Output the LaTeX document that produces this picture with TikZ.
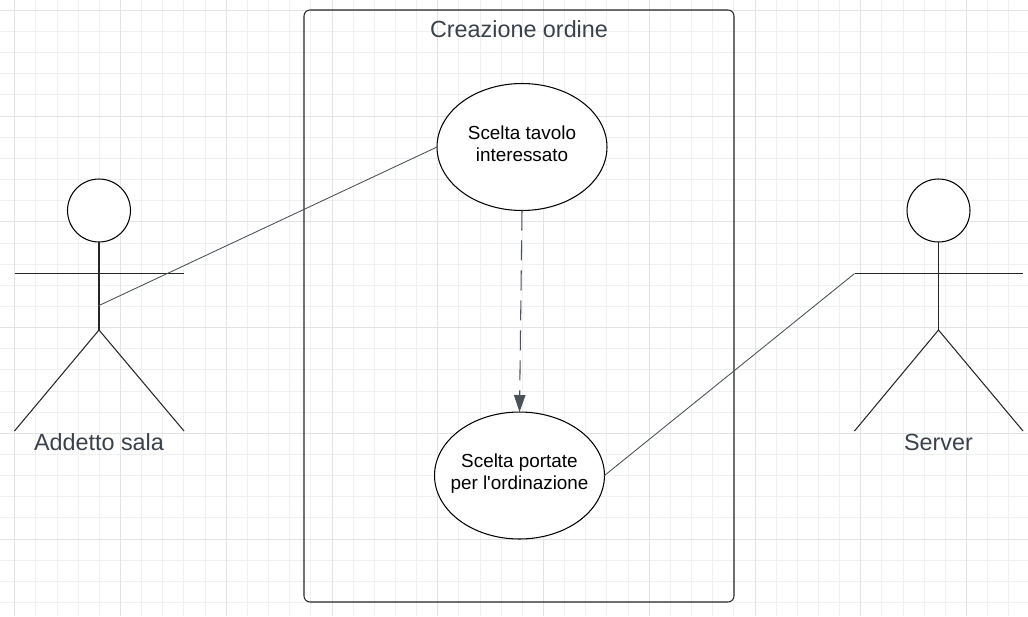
\documentclass[tikz,border=0pt]{standalone}
\usepackage{fontspec}
\setmainfont{Liberation Sans}
\usetikzlibrary{shapes.geometric,arrows.meta}
\definecolor{labelgray}{HTML}{3A414A}
\definecolor{linkgray}{HTML}{4C5159}
\definecolor{minorgrid}{HTML}{F0F0F0}
\definecolor{majorgrid}{HTML}{E3E3E3}
\tikzset{
	usecase/.style={draw=black,fill=white,ellipse,line width=0.6pt,inner xsep=-1cm,inner ysep=-0.5cm,minimum width=3.4cm,minimum height=2.54cm,align=center,text depth=4.2pt,font=\fontsize{10.75}{12.6}\selectfont},
	actorhead/.style={draw=black,fill=white,circle,line width=0.6pt,minimum size=1.26cm},
	actorline/.style={draw=black!85,line width=0.6pt},
	biglabel/.style={text=labelgray,font=\fontsize{13.3}{16}\selectfont},
	link/.style={draw=linkgray,line width=0.5pt},
	include/.style={link,line width=0.6pt,dash pattern=on 0.4cm off 0.2cm,-{Triangle[length=0.34cm,width=0.23cm]}}
}
\begin{document}
\begin{tikzpicture}[x=0.02cm,y=0.02cm]
	\tikzstyle{every node}+=[inner sep=0pt,outer sep=0pt]
	\useasboundingbox (0,-616) rectangle (1028,0);
	% grid
	\foreach \i in {0,...,48}
		\draw [minorgrid,line width=0.5pt] ({14.7+21.15*\i},0) -- ({14.7+21.15*\i},-616);
	\foreach \i in {0,...,28}
		\draw [minorgrid,line width=0.5pt] (0,{-10.3-21.15*\i}) -- (1028,{-10.3-21.15*\i});
	\foreach \i in {0,5,...,45}
		\draw [majorgrid,line width=0.5pt] ({14.7+21.15*\i},0) -- ({14.7+21.15*\i},-616);
	\foreach \i in {0,5,...,25}
		\draw [majorgrid,line width=0.5pt] (0,{-10.3-21.15*\i}) -- (1028,{-10.3-21.15*\i});
	% system box
	\draw [black!85,line width=0.6pt,rounded corners=0.12cm] (304,-10) rectangle (734,-602);
	\node [biglabel] (titolo) at (519,-29) {Creazione ordine};
	% use cases
	\node [usecase] (tavolo) at (522,-147) {Scelta tavolo\\interessato};
	\node [usecase] (portate) at (519.5,-475.5) {Scelta portate\\per l\textquotesingle ordinazione};
	% left actor
	\node [actorhead] (addettohead) at (99,-210.5) {};
	\coordinate (addettohip) at (99,-330);
	\coordinate (addettoarml) at (14.5,-273.6);
	\coordinate (addettoarmr) at (184,-273.6);
	\coordinate (addettofootl) at (14.5,-431);
	\coordinate (addettofootr) at (184,-431);
	\coordinate (addettohand) at (98,-306);
	\draw [actorline] (addettohead.south) -- (addettohip);
	\draw [actorline] (addettoarml) -- (addettoarmr);
	\draw [actorline] (addettofootl) -- (addettohip) -- (addettofootr);
	\node [biglabel] (addettolabel) at (99,-442) {Addetto sala};
	% right actor
	\node [actorhead] (serverhead) at (938.5,-210.5) {};
	\coordinate (serverhip) at (938.5,-330);
	\coordinate (serverarml) at (854.5,-273.6);
	\coordinate (serverarmr) at (1023,-273.6);
	\coordinate (serverfootl) at (854.5,-431);
	\coordinate (serverfootr) at (1023,-431);
	\draw [actorline] (serverhead.south) -- (serverhip);
	\draw [actorline] (serverarml) -- (serverarmr);
	\draw [actorline] (serverfootl) -- (serverhip) -- (serverfootr);
	\node [biglabel] (serverlabel) at (938.5,-442) {Server};
	% connectors
	\draw [link] (addettohand) -- (tavolo.west);
	\draw [link] (serverarml) -- (portate.east);
	\draw [include] (tavolo.south) -- (portate.north);
\end{tikzpicture}
\end{document}
